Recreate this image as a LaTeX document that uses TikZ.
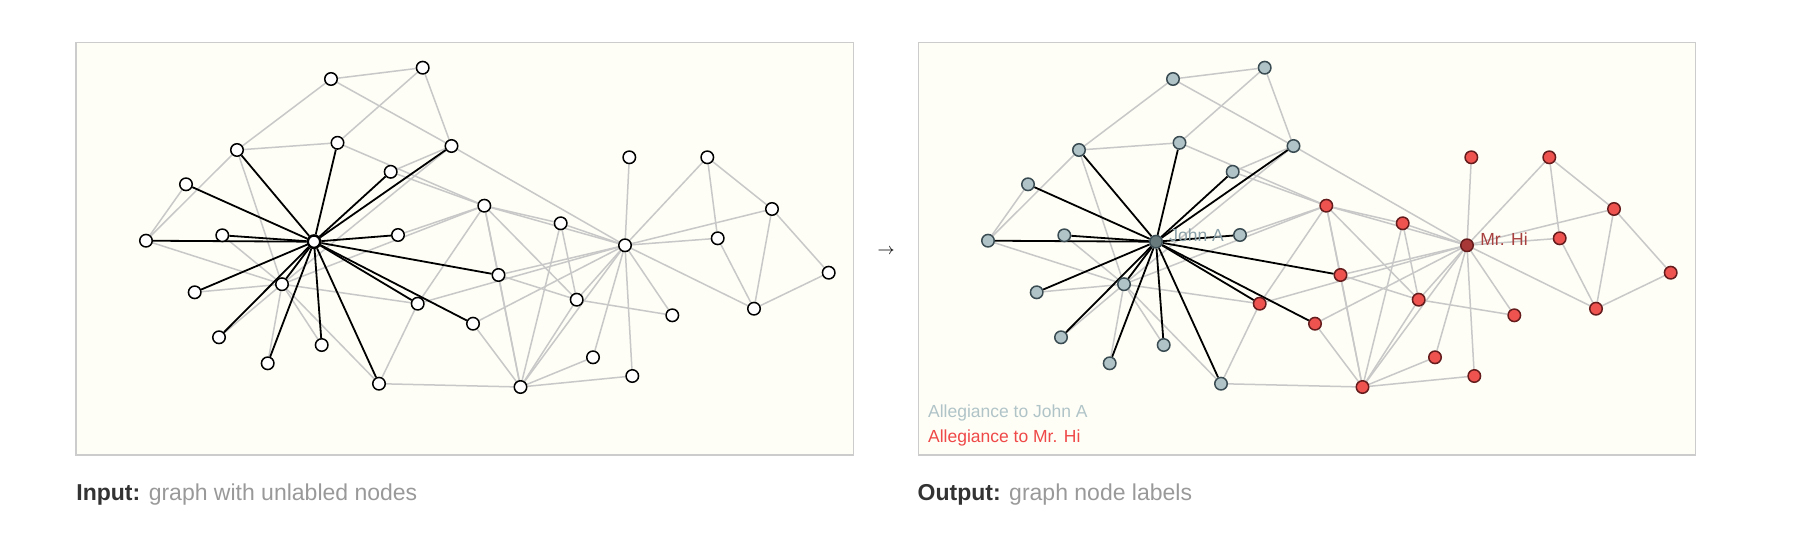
\documentclass[tikz,border=0pt]{standalone}
\usepackage{fontspec}
\setmainfont{Liberation Sans}

\definecolor{ivory}{RGB}{254,254,246}
\definecolor{framegray}{RGB}{204,204,204}
\definecolor{edgegray}{RGB}{200,200,200}
\definecolor{johnfill}{RGB}{176,196,200}
\definecolor{johnline}{RGB}{58,76,82}
\definecolor{johnhubfill}{RGB}{105,122,124}
\definecolor{johntext}{RGB}{138,160,168}
\definecolor{hifill}{RGB}{239,83,80}
\definecolor{hiline}{RGB}{100,28,28}
\definecolor{hihubfill}{RGB}{168,56,56}
\definecolor{hitext}{RGB}{168,64,64}
\definecolor{hilegend}{RGB}{239,72,72}
\definecolor{capdark}{RGB}{51,51,51}
\definecolor{capgray}{RGB}{153,153,153}

\pgfdeclarelayer{back}
\pgfdeclarelayer{edges}
\pgfsetlayers{back,edges,main}

\tikzset{
  panel/.style={draw=framegray, fill=ivory, line width=0.6pt},
  tie/.style={edgegray, line width=0.75pt},
  hublink/.style={black, line width=0.9pt},
  blank/.style={circle, draw=black, fill=white, line width=0.75pt, minimum size=6.25pt, inner sep=0pt},
  blankhub/.style={blank, line width=1.25pt},
  johnnode/.style={blank, draw=johnline, fill=johnfill},
  johnhub/.style={blank, draw=johnline, fill=johnhubfill},
  hinode/.style={blank, draw=hiline, fill=hifill},
  hihub/.style={blank, draw=hiline, fill=hihubfill},
  hubname/.style={inner sep=0pt, anchor=base west, font=\fontsize{8.75}{10}\selectfont},
  caption/.style={inner sep=0pt, anchor=base west, text=capgray, font=\fontsize{11.5}{14}\selectfont}
}

\begin{document}
\begin{tikzpicture}[x=0.5pt, y=-0.5pt]
            \useasboundingbox (0,0) rectangle (1806,541);

            % panels
            \begin{pgfonlayer}{back}
            \draw [panel] (76,42.3) rectangle (853.3,455);
            \draw [panel] (918.3,42.3) rectangle (1695.3,455);
            \end{pgfonlayer}

            % input graph
            \node [blank] (a1) at (625,245.3) {};
            \node [blank] (a2) at (520.5,387) {};
            \node [blank] (a3) at (484.3,205.7) {};
            \node [blank] (a4) at (576.7,299.7) {};
            \node [blank] (a5) at (717.7,238.3) {};
            \node [blank] (a6) at (772,209) {};
            \node [blank] (a7) at (754,308.7) {};
            \node [blank] (a8) at (560.7,223.3) {};
            \node [blank] (a9) at (417.7,303.7) {};
            \node [blank] (a10) at (398,235) {};
            \node [blank] (a11) at (707.3,157.3) {};
            \node [blank] (a12) at (629.3,157.3) {};
            \node [blank] (a13) at (672.3,315.3) {};
            \node [blank] (a14) at (498.5,275) {};
            \node [blank] (a15) at (222.3,235.3) {};
            \node [blank] (a16) at (194.7,292.3) {};
            \node [blank] (a17) at (828.7,272.7) {};
            \node [blank] (a18) at (593,357.3) {};
            \node [blank] (a19) at (219,337.3) {};
            \node [blank] (a20) at (473,323.7) {};
            \node [blank] (a21) at (267.7,363.3) {};
            \node [blank] (a22) at (632.3,376) {};
            \node [blank] (a23) at (321.7,345) {};
            \node [blank] (a24) at (237,150) {};
            \node [blank] (a25) at (422.7,67.7) {};
            \node [blank] (a26) at (331,79) {};
            \node [blank] (a27) at (186,184.3) {};
            \node [blank] (a28) at (337.5,142.8) {};
            \node [blank] (a29) at (390.7,171.8) {};
            \node [blank] (a30) at (146,240.7) {};
            \node [blank] (a31) at (379,383.7) {};
            \node [blank] (a32) at (451.5,146) {};
            \node [blank] (a33) at (282,284.2) {};
            \node [blankhub] (a34) at (314,241.7) {};

            \begin{pgfonlayer}{edges}
            \path [tie] (a1) edge (a2) edge (a3) edge (a4) edge (a5) edge (a6) edge (a7) edge (a8) edge (a9);
            \path [tie] (a1) edge (a11) edge (a12) edge (a13) edge (a14) edge (a18) edge (a20) edge (a22) edge (a32);
            \path [tie] (a2) edge (a3) edge (a4) edge (a8) edge (a14) edge (a18) edge (a20) edge (a22) edge (a31);
            \path [tie] (a3) edge (a4) edge (a8) edge (a9) edge (a10) edge (a14) edge (a28) edge (a29) edge (a33);
            \path [tie] (a4) edge (a8) edge (a13) edge (a14);
            \path [tie] (a5) edge (a7) edge (a11);
            \path [tie] (a6) edge (a7) edge (a11) edge (a17);
            \path [tie] (a7) edge (a17);
            \path [tie] (a9) edge (a31) edge (a33);
            \path [tie] (a33) edge (a15) edge (a16) edge (a19) edge (a21) edge (a23);
            \path [tie] (a24) edge (a26) edge (a28) edge (a30) edge (a33);
            \path [tie] (a25) edge (a26) edge (a28) edge (a32);
            \path [tie] (a26) edge (a32);
            \path [tie] (a27) edge (a30);
            \path [tie] (a29) edge (a32);
            \path [tie] (a30) edge (a33);
            \path [tie] (a31) edge (a33);
            \path [tie] (a32) edge (a33);
            \path [hublink] (a34) edge (a9) edge (a10) edge (a14) edge (a15) edge (a16) edge (a19) edge (a20) edge (a21) edge (a23);
            \path [hublink] (a34) edge (a24) edge (a27) edge (a28) edge (a29) edge (a30) edge (a31) edge (a32) edge (a33);
            \end{pgfonlayer}

            \node [inner sep=0pt, font=\fontsize{8}{10}\selectfont] (arrow) at (886,251.7) {$\rightarrow$};

            % output graph
            \node [hihub] (b1) at (1467,245.3) {};
            \node [hinode] (b2) at (1362.5,387) {};
            \node [hinode] (b3) at (1326.3,205.7) {};
            \node [hinode] (b4) at (1418.7,299.7) {};
            \node [hinode] (b5) at (1559.7,238.3) {};
            \node [hinode] (b6) at (1614,209) {};
            \node [hinode] (b7) at (1596,308.7) {};
            \node [hinode] (b8) at (1402.7,223.3) {};
            \node [hinode] (b9) at (1259.7,303.7) {};
            \node [johnnode] (b10) at (1240,235) {};
            \node [hinode] (b11) at (1549.3,157.3) {};
            \node [hinode] (b12) at (1471.3,157.3) {};
            \node [hinode] (b13) at (1514.3,315.3) {};
            \node [hinode] (b14) at (1340.5,275) {};
            \node [johnnode] (b15) at (1064.3,235.3) {};
            \node [johnnode] (b16) at (1036.7,292.3) {};
            \node [hinode] (b17) at (1670.7,272.7) {};
            \node [hinode] (b18) at (1435,357.3) {};
            \node [johnnode] (b19) at (1061,337.3) {};
            \node [hinode] (b20) at (1315,323.7) {};
            \node [johnnode] (b21) at (1109.7,363.3) {};
            \node [hinode] (b22) at (1474.3,376) {};
            \node [johnnode] (b23) at (1163.7,345) {};
            \node [johnnode] (b24) at (1079,150) {};
            \node [johnnode] (b25) at (1264.7,67.7) {};
            \node [johnnode] (b26) at (1173,79) {};
            \node [johnnode] (b27) at (1028,184.3) {};
            \node [johnnode] (b28) at (1179.5,142.8) {};
            \node [johnnode] (b29) at (1232.7,171.8) {};
            \node [johnnode] (b30) at (988,240.7) {};
            \node [johnnode] (b31) at (1221,383.7) {};
            \node [johnnode] (b32) at (1293.5,146) {};
            \node [johnnode] (b33) at (1124,284.2) {};
            \node [johnhub] (b34) at (1156,241.7) {};

            \begin{pgfonlayer}{edges}
            \path [tie] (b1) edge (b2) edge (b3) edge (b4) edge (b5) edge (b6) edge (b7) edge (b8) edge (b9);
            \path [tie] (b1) edge (b11) edge (b12) edge (b13) edge (b14) edge (b18) edge (b20) edge (b22) edge (b32);
            \path [tie] (b2) edge (b3) edge (b4) edge (b8) edge (b14) edge (b18) edge (b20) edge (b22) edge (b31);
            \path [tie] (b3) edge (b4) edge (b8) edge (b9) edge (b10) edge (b14) edge (b28) edge (b29) edge (b33);
            \path [tie] (b4) edge (b8) edge (b13) edge (b14);
            \path [tie] (b5) edge (b7) edge (b11);
            \path [tie] (b6) edge (b7) edge (b11) edge (b17);
            \path [tie] (b7) edge (b17);
            \path [tie] (b9) edge (b31) edge (b33);
            \path [tie] (b33) edge (b15) edge (b16) edge (b19) edge (b21) edge (b23);
            \path [tie] (b24) edge (b26) edge (b28) edge (b30) edge (b33);
            \path [tie] (b25) edge (b26) edge (b28) edge (b32);
            \path [tie] (b26) edge (b32);
            \path [tie] (b27) edge (b30);
            \path [tie] (b29) edge (b32);
            \path [tie] (b30) edge (b33);
            \path [tie] (b31) edge (b33);
            \path [tie] (b32) edge (b33);
            \path [hublink] (b34) edge (b9) edge (b10) edge (b14) edge (b15) edge (b16) edge (b19) edge (b20) edge (b21) edge (b23);
            \path [hublink] (b34) edge (b24) edge (b27) edge (b28) edge (b29) edge (b30) edge (b31) edge (b32) edge (b33);
            \end{pgfonlayer}

            \node [hubname, text=johntext] (johnname) at (1169,241.5) {John A};
            \node [hubname, text=hitext] (hiname) at (1480,245) {Mr. Hi};

            \node [hubname, text=johnfill] (johnkey) at (927.7,417.7) {Allegiance to John A};
            \node [hubname, text=hilegend] (hikey) at (927.7,442) {Allegiance to Mr. Hi};

            \node [caption] (incap) at (76,500.7) {\textcolor{capdark}{\bfseries Input:} graph with unlabled nodes};
            \node [caption] (outcap) at (917.3,500.7) {\textcolor{capdark}{\bfseries Output:} graph node labels};
        \end{tikzpicture}
\end{document}
